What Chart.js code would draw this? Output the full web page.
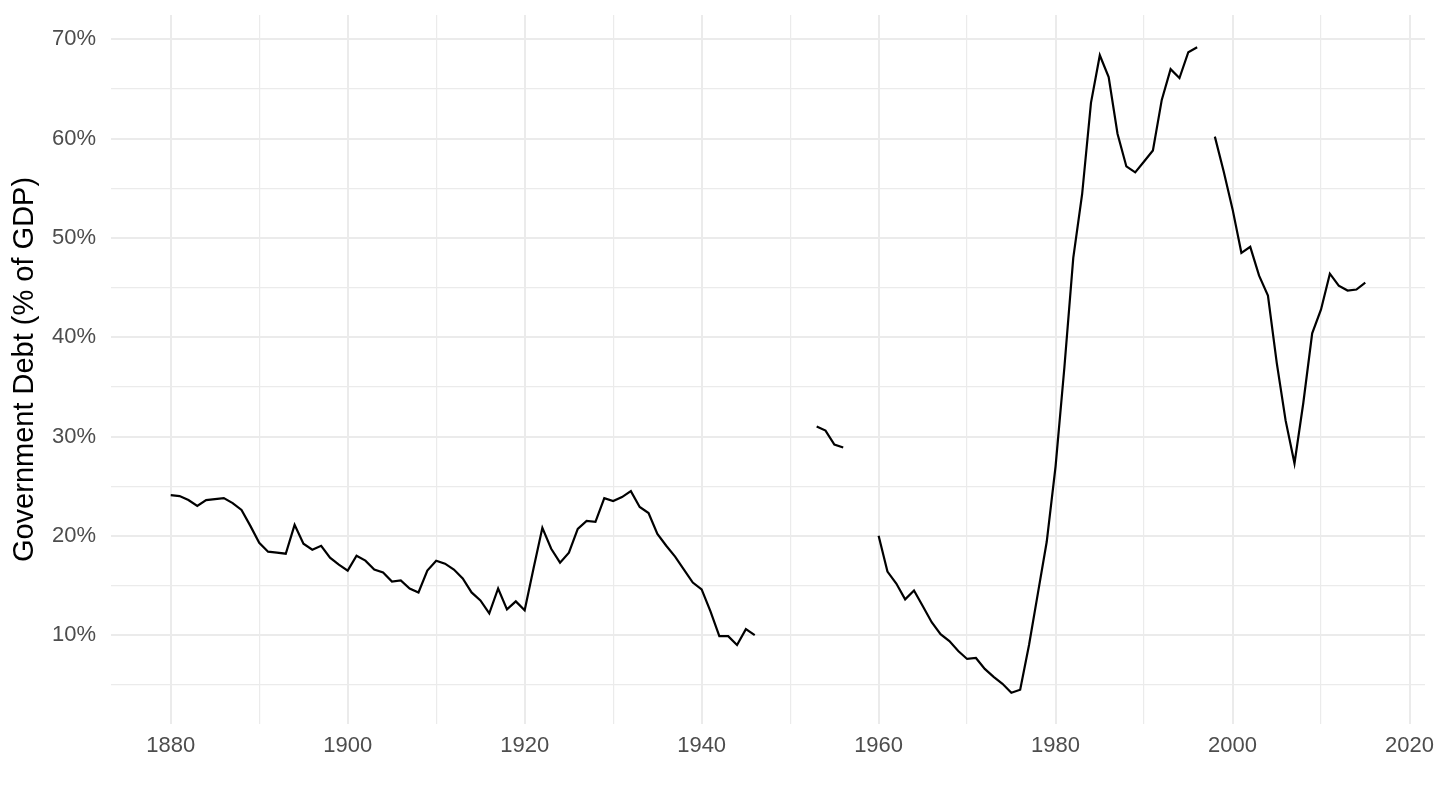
<!DOCTYPE html>
<html>
<head>
<meta charset="utf-8">
<script src="https://cdn.jsdelivr.net/npm/chart.js@4.4.1/dist/chart.umd.min.js"></script>
<style>
  html, body { margin: 0; padding: 0; background: #fff; }
  #wrap { width: 1440px; height: 810px; }
</style>
</head>
<body>
<div id="wrap"><canvas id="debtChart" width="1440" height="810"></canvas></div>
<script>
// years 1880-2015, null = no observation
const years = [
  1880, 1881, 1882, 1883, 1884, 1885, 1886, 1887, 1888, 1889,
  1890, 1891, 1892, 1893, 1894, 1895, 1896, 1897, 1898, 1899,
  1900, 1901, 1902, 1903, 1904, 1905, 1906, 1907, 1908, 1909,
  1910, 1911, 1912, 1913, 1914, 1915, 1916, 1917, 1918, 1919,
  1920, 1921, 1922, 1923, 1924, 1925, 1926, 1927, 1928, 1929,
  1930, 1931, 1932, 1933, 1934, 1935, 1936, 1937, 1938, 1939,
  1940, 1941, 1942, 1943, 1944, 1945, 1946, 1947, 1948, 1949,
  1950, 1951, 1952, 1953, 1954, 1955, 1956, 1957, 1958, 1959,
  1960, 1961, 1962, 1963, 1964, 1965, 1966, 1967, 1968, 1969,
  1970, 1971, 1972, 1973, 1974, 1975, 1976, 1977, 1978, 1979,
  1980, 1981, 1982, 1983, 1984, 1985, 1986, 1987, 1988, 1989,
  1990, 1991, 1992, 1993, 1994, 1995, 1996, 1997, 1998, 1999,
  2000, 2001, 2002, 2003, 2004, 2005, 2006, 2007, 2008, 2009,
  2010, 2011, 2012, 2013, 2014, 2015
];

const debtPct = [
  24.1, 24.0, 23.6, 23.0, 23.6, 23.7, 23.8, 23.3, 22.6, 21.0,
  19.3, 18.4, 18.3, 18.2, 21.1, 19.2, 18.6, 19.0, 17.8, 17.1,
  16.5, 18.0, 17.5, 16.6, 16.3, 15.4, 15.5, 14.7, 14.3, 16.5,
  17.5, 17.2, 16.6, 15.7, 14.3, 13.5, 12.2, 14.7, 12.6, 13.4,
  12.5, 16.7, 20.8, 18.7, 17.3, 18.3, 20.7, 21.5, 21.4, 23.8,
  23.5, 23.9, 24.5, 22.9, 22.3, 20.2, 19.0, 17.9, 16.6, 15.3,
  14.6, 12.4, 9.9, 9.9, 9.0, 10.6, 10.0, null, null, null,
  null, null, null, 31.0, 30.6, 29.2, 28.9, null, null, null,
  20.0, 16.4, 15.2, 13.6, 14.5, 12.9, 11.3, 10.1, 9.4, 8.4,
  7.6, 7.7, 6.6, 5.8, 5.1, 4.2, 4.5, 9.0, 14.2, 19.4,
  27.0, 37.0, 48.0, 54.4, 63.6, 68.4, 66.2, 60.5, 57.2, 56.6,
  57.7, 58.8, 63.9, 67.0, 66.1, 68.7, 69.2, null, 60.2, 56.7,
  52.9, 48.5, 49.1, 46.2, 44.2, 37.4, 31.6, 27.3, 33.4, 40.4,
  42.8, 46.4, 45.2, 44.7, 44.8, 45.5
];

// grid positions (labelled every 20 years / every 10%)
const xGridYears = [1880, 1890, 1900, 1910, 1920, 1930, 1940, 1950, 1960, 1970, 1980, 1990, 2000, 2010, 2020];
const xLabelYears = [1880, 1900, 1920, 1940, 1960, 1980, 2000, 2020];
const yGridPct = [5, 10, 15, 20, 25, 30, 35, 40, 45, 50, 55, 60, 65, 70];
const yLabelPct = [10, 20, 30, 40, 50, 60, 70];

const points = years.map((y, i) => ({ x: y, y: debtPct[i] }));

const gridColor = '#EBEBEB';
const fontFamily = '"Liberation Sans", Arial, sans-serif';
const tickFont = { family: fontFamily, size: 22 };

function noPad(scale) {
  scale.paddingTop = 0;
  scale.paddingBottom = 0;
  scale.paddingLeft = 0;
  scale.paddingRight = 0;
}

const ctx = document.getElementById('debtChart').getContext('2d');
new Chart(ctx, {
  type: 'line',
  data: {
    datasets: [{
      data: points,
      borderColor: '#000000',
      borderWidth: 2.2,
      pointRadius: 0,
      pointHoverRadius: 0,
      tension: 0,
      spanGaps: false,
      fill: false
    }]
  },
  options: {
    responsive: false,
    animation: false,
    devicePixelRatio: 1,
    layout: { padding: { left: 0, top: 15, right: 15, bottom: 0 } },
    plugins: {
      legend: { display: false },
      tooltip: { enabled: false }
    },
    scales: {
      x: {
        type: 'linear',
        min: 1873.25,
        max: 2021.75,
        afterBuildTicks: scale => { scale.ticks = xGridYears.map(v => ({ value: v })); },
        afterFit: scale => { scale.height = 86; noPad(scale); },
        border: { display: false },
        grid: {
          color: gridColor,
          drawTicks: false,
          lineWidth: c => (c.tick && xLabelYears.includes(c.tick.value)) ? 2 : 1.2
        },
        ticks: {
          autoSkip: false,
          maxRotation: 0,
          padding: 9,
          color: '#4D4D4D',
          font: tickFont,
          callback: v => xLabelYears.includes(v) ? String(v) : ''
        }
      },
      y: {
        type: 'linear',
        min: 1.05,
        max: 72.45,
        afterBuildTicks: scale => { scale.ticks = yGridPct.map(v => ({ value: v })); },
        afterFit: scale => { scale.width = 111; noPad(scale); },
        border: { display: false },
        grid: {
          color: gridColor,
          drawTicks: false,
          lineWidth: c => (c.tick && yLabelPct.includes(c.tick.value)) ? 2 : 1.2
        },
        ticks: {
          autoSkip: false,
          padding: 15,
          color: '#4D4D4D',
          font: tickFont,
          callback: v => yLabelPct.includes(v) ? v + '%' : ''
        },
        title: {
          display: true,
          text: 'Government Debt (% of GDP)',
          color: '#000000',
          font: { family: fontFamily, size: 29 },
          padding: { top: 8, bottom: 0 }
        }
      }
    }
  }
});
</script>
</body>
</html>
